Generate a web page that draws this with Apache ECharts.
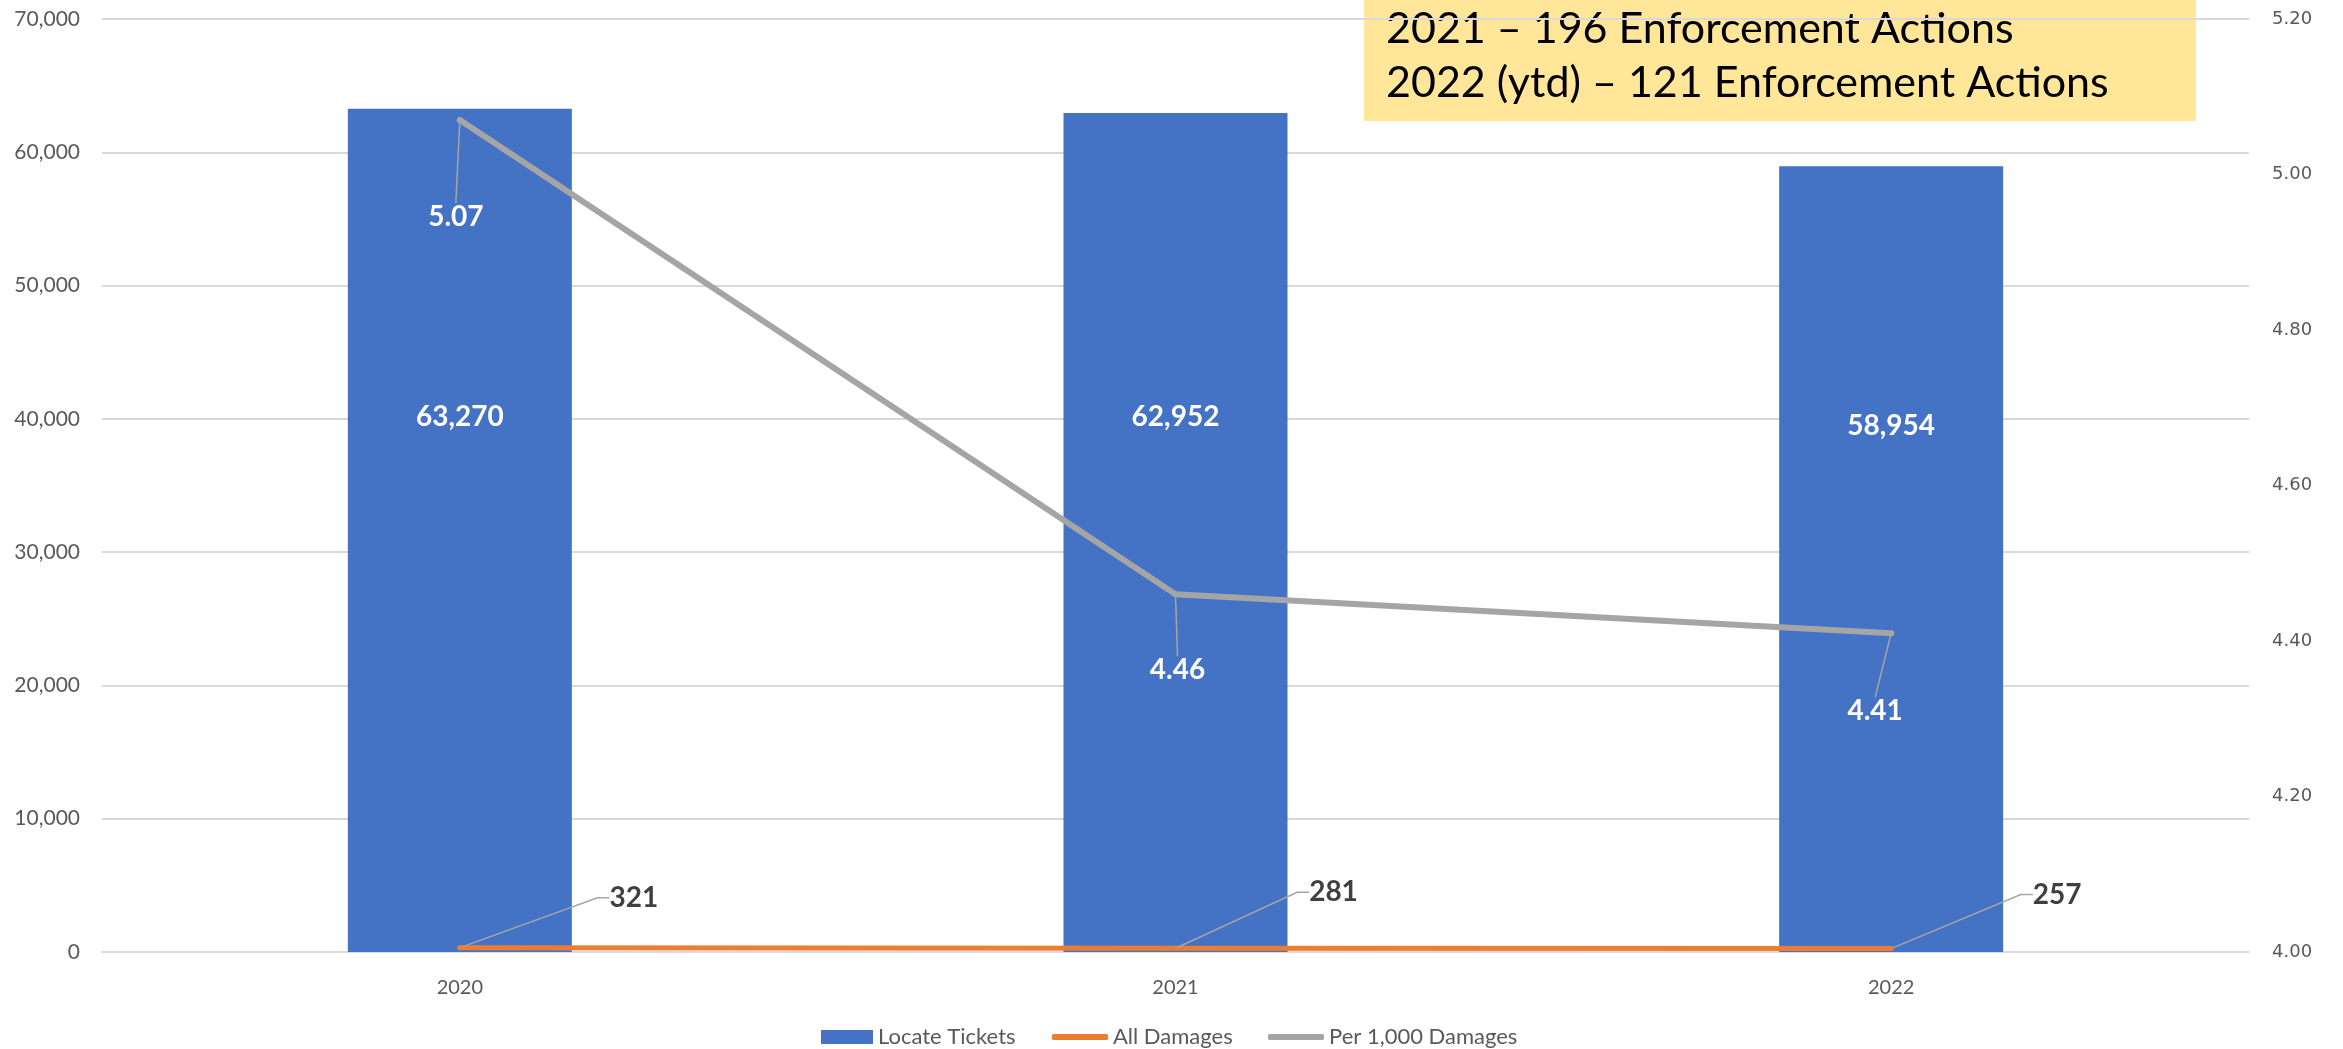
<!DOCTYPE html>
<html>
<head>
<meta charset="utf-8">
<script src="https://cdn.jsdelivr.net/npm/echarts@6/dist/echarts.min.js"></script>
<style>
  html, body { margin: 0; padding: 0; background: #ffffff; }
  #chart { width: 2343px; height: 1049px; }
</style>
</head>
<body>
<div id="chart"></div>
<script>
// ---- data ----
const years = ['2020', '2021', '2022'];
const locateTickets = [63270, 62952, 58954];
const allDamages = [321, 281, 257];
const perThousandDamages = [5.07, 4.46, 4.41];

// axis scales
const ticketAxis = { min: 0, max: 70000, interval: 10000 };
const rateAxis = { min: 4.0, max: 5.2, interval: 0.2 };

// note box text
const noteLines = ['2021 – 196 Enforcement Actions', '2022 (ytd) – 121 Enforcement Actions'];

// ---- label placement offsets (px) ----
const barLabelShift = [-113, -116, -133];
const rateLabelShift = [[-4, 97], [2, 76], [-16, 78]];
const damageLabelShift = [[174, -50], [158, -56], [166, -54]];

const FONT = 'Lato, "Open Sans", sans-serif';
const BLUE = '#4472C4', ORANGE = '#ED7D31', GREY = '#A5A5A5';
const GRID = '#D9D9D9', AXIS_TEXT = '#595959';

const chart = echarts.init(document.getElementById('chart'), null, { renderer: 'canvas' });

const legendBase = {
  orient: 'horizontal',
  top: 1026,
  padding: 0,
  textStyle: { fontFamily: FONT, fontSize: 22, color: AXIS_TEXT },
  selectedMode: false
};

chart.setOption({
  animation: false,
  backgroundColor: '#ffffff',
  grid: { left: 102, right: 94, top: 19, bottom: 97, containLabel: false },
  legend: [
    Object.assign({}, legendBase, {
      left: 821, itemWidth: 52, itemHeight: 14,
      data: [{ name: 'Locate Tickets', icon: 'rect' }]
    }),
    Object.assign({}, legendBase, {
      left: 1052, itemWidth: 56, itemHeight: 6,
      data: [{ name: 'All Damages', icon: 'roundRect' }]
    }),
    Object.assign({}, legendBase, {
      left: 1268, itemWidth: 56, itemHeight: 6,
      data: [{ name: 'Per 1,000 Damages', icon: 'roundRect' }]
    })
  ],
  xAxis: {
    type: 'category',
    data: years,
    axisTick: { show: false },
    axisLine: { lineStyle: { color: GRID, width: 2 } },
    axisLabel: { fontFamily: FONT, fontSize: 20, color: AXIS_TEXT, margin: 26 }
  },
  yAxis: [
    {
      type: 'value',
      min: ticketAxis.min, max: ticketAxis.max, interval: ticketAxis.interval,
      axisLine: { show: false }, axisTick: { show: false },
      splitLine: { lineStyle: { color: GRID, width: 2 } },
      axisLabel: {
        fontFamily: FONT, fontSize: 21, color: AXIS_TEXT, margin: 22,
        formatter: v => v.toLocaleString('en-US')
      }
    },
    {
      type: 'value',
      min: rateAxis.min, max: rateAxis.max, interval: rateAxis.interval,
      axisLine: { show: false }, axisTick: { show: false },
      splitLine: { show: false },
      axisLabel: {
        fontFamily: '"DejaVu Sans", sans-serif', fontSize: 18, color: AXIS_TEXT, margin: 23,
        formatter: v => v.toFixed(2)
      }
    }
  ],
  series: [
    {
      name: 'Locate Tickets',
      type: 'bar',
      data: locateTickets,
      barWidth: 224,
      itemStyle: { color: BLUE },
      label: {
        show: true, position: 'inside',
        fontFamily: FONT, fontSize: 28, fontWeight: 'bold', color: '#ffffff',
        formatter: p => p.value.toLocaleString('en-US')
      },
      labelLayout: p => ({ dy: barLabelShift[p.dataIndex] }),
      z: 2
    },
    {
      name: 'All Damages',
      type: 'line',
      data: allDamages,
      yAxisIndex: 0,
      symbol: 'circle', symbolSize: 5,
      itemStyle: { color: ORANGE },
      lineStyle: { color: ORANGE, width: 5, cap: 'round' },
      label: {
        show: true, position: 'inside',
        fontFamily: FONT, fontSize: 28, fontWeight: 'bold', color: '#404040',
        formatter: p => String(p.value)
      },
      labelLine: { show: true, length2: 12, lineStyle: { color: GREY, width: 1.5 } },
      labelLayout: p => ({ dx: damageLabelShift[p.dataIndex][0], dy: damageLabelShift[p.dataIndex][1] }),
      z: 4
    },
    {
      name: 'Per 1,000 Damages',
      type: 'line',
      data: perThousandDamages,
      yAxisIndex: 1,
      symbol: 'circle', symbolSize: 6,
      itemStyle: { color: GREY },
      lineStyle: { color: GREY, width: 6, cap: 'round', join: 'round' },
      label: {
        show: true, position: 'inside',
        fontFamily: FONT, fontSize: 28, fontWeight: 'bold', color: '#ffffff',
        formatter: p => p.value.toFixed(2)
      },
      labelLine: { show: true, length2: 0, lineStyle: { color: GREY, width: 1.5 } },
      labelLayout: p => ({ dx: rateLabelShift[p.dataIndex][0], dy: rateLabelShift[p.dataIndex][1] }),
      z: 5
    }
  ],
  graphic: [
    {
      type: 'group',
      left: 1364, top: 0, z: 100,
      children: [
        { type: 'rect', shape: { x: 0, y: 0, width: 832, height: 121 }, style: { fill: '#FFE699' } },
        {
          type: 'text', x: 22, y: 29,
          style: { text: noteLines[0], fontFamily: FONT, fontSize: 43, fill: '#000000', verticalAlign: 'middle' }
        },
        {
          type: 'text', x: 22, y: 83,
          style: { text: noteLines[1], fontFamily: FONT, fontSize: 43, fill: '#000000', verticalAlign: 'middle' }
        }
      ]
    }
  ]
});
</script>
</body>
</html>
